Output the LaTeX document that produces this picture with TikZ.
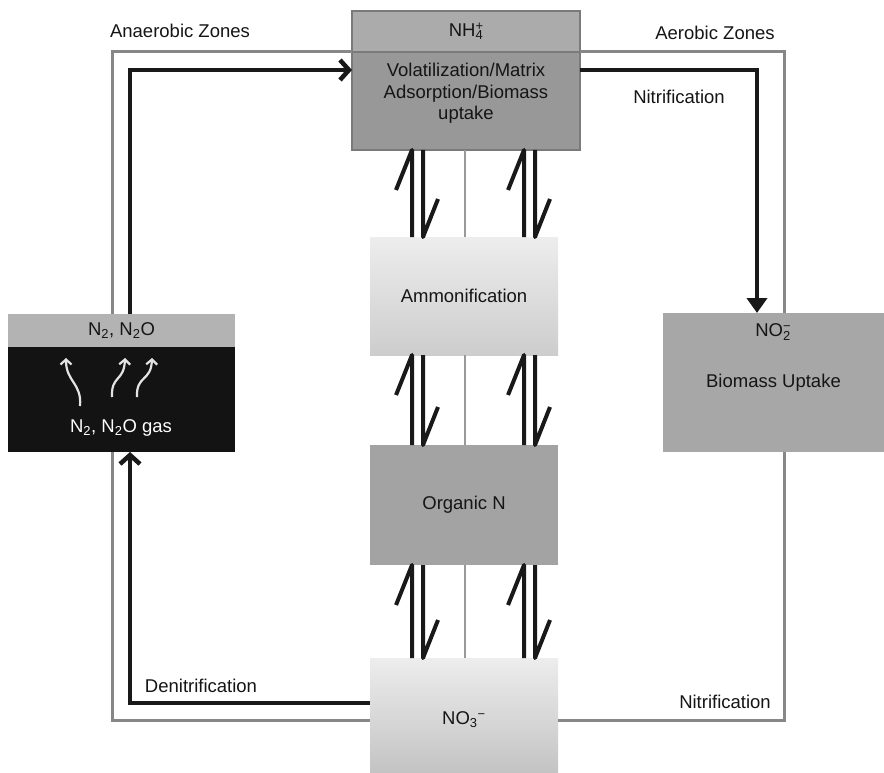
\documentclass[tikz,border=0pt]{standalone}
\usepackage{fontspec}
\setmainfont{Liberation Sans}
\usetikzlibrary{arrows.meta,calc}
\definecolor{framecol}{HTML}{878787}
\definecolor{nhtop}{HTML}{ABABAB}
\definecolor{nhbot}{HTML}{989898}
\definecolor{nhedge}{HTML}{7A7A7A}
\definecolor{ntop}{HTML}{B3B3B3}
\definecolor{gasfill}{HTML}{131313}
\definecolor{nofill}{HTML}{A7A7A7}
\definecolor{orgfill}{HTML}{A3A3A3}
\definecolor{lighttop}{HTML}{EDEDED}
\definecolor{lightbot}{HTML}{CDCDCD}
\definecolor{txt}{HTML}{151515}
\begin{document}
\begin{tikzpicture}[x=1pt,y=-1pt,
  box/.style={draw=none,inner sep=0pt,outer sep=0pt,font=\fontsize{18.5}{21.5}\selectfont,align=center,text=txt},
  lbl/.style={font=\fontsize{18.5}{21.5}\selectfont,text=txt,inner sep=0pt,align=center},
  frameline/.style={draw=framecol,line width=3pt},
  blk/.style={draw=black!90,line width=4.5pt},
  harp/.style={draw=black!90,line width=4pt,line join=round},
  midline/.style={draw=gray!80,line width=2pt},
  gasarrow/.style={draw=gray!22,line width=2.2pt,-{Straight Barb[length=5pt,width=11pt]}}]
\useasboundingbox (0,0) rectangle (884,773);
\fill[white] (0,0) rectangle (884,773);

% helper coordinates
\coordinate (FL) at (112,0);
\coordinate (FR) at (784,0);
\coordinate (FB) at (0,720);
\coordinate (BL) at (130,0);
\coordinate (BR) at (757,0);
\coordinate (BT) at (0,70);
\coordinate (BB) at (0,703);
\coordinate (XA) at (412,0);
\coordinate (XB) at (423,0);
\coordinate (XC) at (524,0);
\coordinate (XD) at (535,0);
\coordinate (XM) at (465,0);

% boxes
\node[box,fill=nhtop,minimum width=228,minimum height=41] (nh4) at (466,31.5) {NH\rlap{\textsuperscript{+}}\textsubscript{4}};
\node[box,fill=nhbot,minimum width=228,minimum height=98] (vol) at (466,101) {};
\node[lbl] (voltext) at (466,93.5) {Volatilization/Matrix\\Adsorption/Biomass\\uptake};
\draw[nhedge,line width=1.5pt] (nh4.north west) rectangle (vol.south east);
\draw[nhedge,line width=1.2pt] (nh4.south west) -- (nh4.south east);

\node[box,fill=ntop,minimum width=227,minimum height=33] (n2top) at (121.5,330.5) {N\textsubscript{2}, N\textsubscript{2}O};
\node[box,fill=gasfill,minimum width=227,minimum height=105] (gas) at (121.5,399.5) {};
\node[lbl,text=white] (gastext) at (121,428) {N\textsubscript{2}, N\textsubscript{2}O gas};

\node[box,fill=nofill,minimum width=221,minimum height=139] (no2) at (773.5,382.5) {Biomass Uptake};
\node[lbl] (no2text) at (773,332) {NO\rlap{\textsuperscript{−}}\textsubscript{2}};

\node[box,top color=lighttop,bottom color=lightbot,minimum width=188,minimum height=118] (amm) at (464,296) {Ammonification};
\node[box,fill=orgfill,minimum width=188,minimum height=120] (org) at (464,505) {Organic N};
\node[box,top color=lighttop,bottom color=lightbot!95!black,minimum width=188,minimum height=116] (no3) at (464,716) {};
\node[lbl] (no3text) at (464,720) {NO\textsubscript{3}\textsuperscript{−}};

% outer frame (zones)
\draw[frameline] (nh4.south west) -| (n2top.north -| FL);
\draw[frameline] (gas.south -| FL) |- (no3.west |- FB);
\draw[frameline] (no3.east |- FB) -| (no2.south -| FR);
\draw[frameline] (no2.north -| FR) |- (nh4.south east);

% black process arrows
\draw[blk,-{Straight Barb[length=9pt,width=20pt]}] (n2top.north -| BL) |- (vol.west |- BT);
\draw[blk,-{Triangle[length=15pt,width=20pt]}] (vol.east |- BT) -| (no2.north -| BR);
\draw[blk,-{Straight Barb[length=9pt,width=20pt]}] (no3.west |- BB) -| (gas.south -| BL);

% equilibrium harpoons and middle lines
\foreach \up/\dn in {vol/amm, amm/org, org/no3}{
  \draw[midline] (\up.south -| XM) -- (\dn.north -| XM);
  \draw[harp] (\dn.north -| XA) -- (\up.south -| XA) -- ++(-16,40);
  \draw[harp] (\up.south -| XB) -- (\dn.north -| XB) -- ++(15,-38);
  \draw[harp] (\dn.north -| XC) -- (\up.south -| XC) -- ++(-16,40);
  \draw[harp] (\up.south -| XD) -- (\dn.north -| XD) -- ++(15,-38);
}

% gas arrows
\draw[gasarrow] (80,406) .. controls (82,383) and (66,382) .. (66,358);
\draw[gasarrow] (112,397) .. controls (111,375) and (124,382) .. (125,358);
\draw[gasarrow] (137,397) .. controls (136,375) and (151,382) .. (152,358);

% labels
\node[lbl] (anz) at (180,31) {Anaerobic Zones};
\node[lbl] (aez) at (715,33) {Aerobic Zones};
\node[lbl] (nit1) at (679,97) {Nitrification};
\node[lbl] (nit2) at (725,702) {Nitrification};
\node[lbl] (den) at (201,686) {Denitrification};
\end{tikzpicture}
\end{document}
